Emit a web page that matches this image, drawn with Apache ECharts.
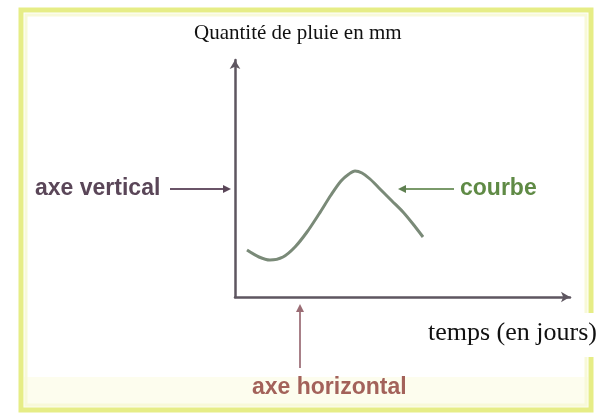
<!DOCTYPE html>
<html>
<head>
<meta charset="utf-8">
<script src="https://cdn.jsdelivr.net/npm/echarts@6/dist/echarts.min.js"></script>
<style>
  html, body { margin: 0; padding: 0; background: #fff; }
  #container { width: 615px; height: 414px; }
</style>
</head>
<body>
<div id="container"></div>
<script>
// 初始化echarts实例
var myChart = echarts.init(document.getElementById('container'));

// courbe : temps (x) / quantité de pluie (y)
var jours = [12, 24, 35, 48, 60, 72, 84, 96, 106, 114, 120, 127, 135, 145, 157, 168, 178, 188];
var pluie = [47, 40, 37, 40, 50, 65, 83, 102, 116, 123, 126, 124, 118, 108, 96, 85, 73, 60];

var titreY = 'Quantité de pluie en mm';
var titreX = 'temps (en jours)';
var etiquettes = ['axe vertical', 'courbe', 'axe horizontal'];

var points = [];
for (var i = 0; i < jours.length; i++) {
    points.push([jours[i], pluie[i]]);
}

var axeCouleur = '#5e5660';

var option = {
    backgroundColor: '#fff',
    animation: false,
    grid: {left: 235, right: 45, top: 60, bottom: 117},
    xAxis: {
        type: 'value', min: 0, max: 335,
        axisLine: {lineStyle: {color: axeCouleur, width: 2.5}, symbol: ['none', 'arrow'], symbolSize: [8, 9]},
        axisTick: {show: false}, axisLabel: {show: false}, splitLine: {show: false}
    },
    yAxis: {
        type: 'value', min: 0, max: 237,
        axisLine: {show: true, lineStyle: {color: axeCouleur, width: 2.5}, symbol: ['none', 'arrow'], symbolSize: [8, 9]},
        axisTick: {show: false}, axisLabel: {show: false}, splitLine: {show: false}
    },
    series: [{
        type: 'line',
        data: points,
        smooth: 0.3,
        showSymbol: false,
        lineStyle: {color: '#7a8a78', width: 3}
    }],
    graphic: [
        // cadre jaune
        {type: 'rect', z: -10, shape: {x: 24, y: 377, width: 564, height: 31}, style: {fill: '#fdfdee'}},
        {type: 'rect', z: -5, shape: {x: 21, y: 10, width: 570, height: 400}, style: {fill: 'none', stroke: '#e6ed86', lineWidth: 5}},
        {type: 'rect', z: -5, shape: {x: 26, y: 15, width: 560, height: 390}, style: {fill: 'none', stroke: '#f8f9d8', lineWidth: 3}},
        // titres
        {type: 'rect', z: 5, shape: {x: 187, y: 17, width: 236, height: 32}, style: {fill: '#fff'}},
        {type: 'text', z: 6, left: 194, top: 23, style: {text: titreY, font: '21px "Liberation Serif"', fill: '#111'}},
        {type: 'rect', z: 5, shape: {x: 415, y: 313, width: 200, height: 44}, style: {fill: '#fff'}},
        {type: 'text', z: 6, left: 428, top: 320, style: {text: titreX, font: '26px "Liberation Serif"', fill: '#111'}},
        // axe vertical
        {type: 'text', left: 35, top: 177, style: {text: etiquettes[0], font: 'bold 23px "Liberation Sans"', fill: '#5a4658'}},
        {type: 'line', shape: {x1: 170, y1: 189, x2: 226, y2: 189}, style: {stroke: '#6a5468', lineWidth: 2}},
        {type: 'polygon', shape: {points: [[231, 189], [223, 185], [223, 193]]}, style: {fill: '#5a4658'}},
        // courbe
        {type: 'text', left: 460, top: 177, style: {text: etiquettes[1], font: 'bold 23px "Liberation Sans"', fill: '#5f8a45'}},
        {type: 'line', shape: {x1: 454, y1: 189, x2: 404, y2: 189}, style: {stroke: '#7a9a6a', lineWidth: 2}},
        {type: 'polygon', shape: {points: [[398, 189], [406, 185], [406, 193]]}, style: {fill: '#5e7f50'}},
        // axe horizontal
        {type: 'text', left: 252, top: 376, style: {text: etiquettes[2], font: 'bold 23px "Liberation Sans"', fill: '#a3625a'}},
        {type: 'line', shape: {x1: 300, y1: 368, x2: 300, y2: 310}, style: {stroke: '#a88088', lineWidth: 2}},
        {type: 'polygon', shape: {points: [[300, 304], [296, 312], [304, 312]]}, style: {fill: '#9a6c74'}}
    ]
};
myChart.setOption(option, true);

window.onresize = function () {
    myChart.resize();
};
</script>
</body>
</html>
